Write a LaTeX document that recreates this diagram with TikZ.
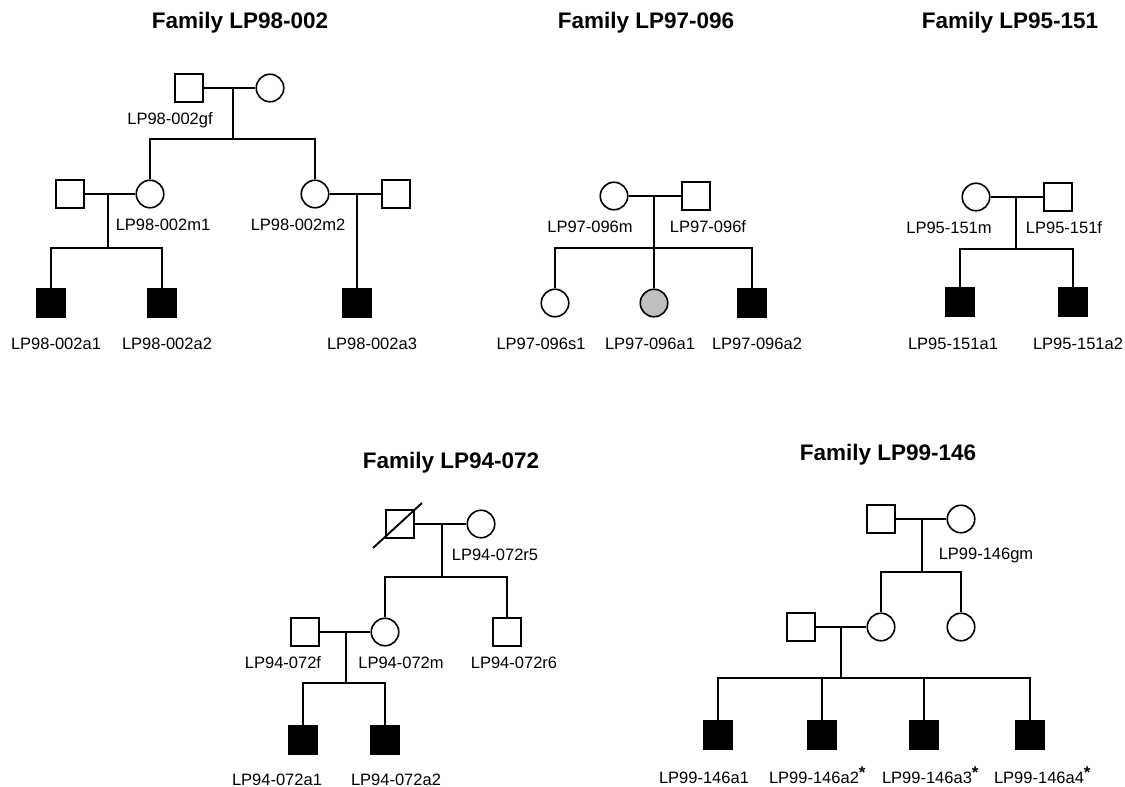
\documentclass[tikz,border=0pt]{standalone}
\usepackage{fontspec}
\setmainfont{Liberation Sans}
\newcommand{\myast}{\rlap{\raisebox{4.5pt}{\fontsize{17}{17}\selectfont\bfseries *}}}
\begin{document}
\begin{tikzpicture}[x=1pt,y=-1pt,
  male/.style={draw, line width=1.6pt, rectangle, minimum size=28.5pt, inner sep=0pt},
  female/.style={draw, line width=1.6pt, circle, minimum size=27.5pt, inner sep=0pt},
  aff/.style={fill=black},
  grayaff/.style={fill=black!25},
  lbl/.style={anchor=base, inner sep=0pt, font=\fontsize{16.5}{20}\selectfont},
  ttl/.style={anchor=base, inner sep=0pt, font=\fontsize{22.5}{27}\selectfont\bfseries},
  ln/.style={line width=2.1pt}]
\fill[white] (0,0) rectangle (1125,787);
\useasboundingbox (0,0) rectangle (1125,787);

% ---------------- Family LP98-002 ----------------
\node[ttl] (t1) at (240,28) {Family LP98-002};
\node[male] (A_gf) at (189,88) {};
\node[female] (A_gm) at (270,88) {};
\coordinate (A_c1) at (233,88);
\coordinate (A_s1) at (233,139);
\node[female] (A_m1) at (150,194) {};
\node[female] (A_m2) at (315,194) {};
\node[male] (A_h1) at (70,194) {};
\node[male] (A_h2) at (396,194) {};
\coordinate (A_c2) at (108,194);
\coordinate (A_s2) at (108,248);
\coordinate (A_c3) at (357,194);
\node[male,aff] (A_a1) at (51,303) {};
\node[male,aff] (A_a2) at (162,303) {};
\node[male,aff] (A_a3) at (357,303) {};
\draw[ln] (A_gf.east) -- (A_gm.west);
\draw[ln] (A_c1) -- (A_s1);
\draw[ln] (A_m1.north) |- (A_s1) -| (A_m2.north);
\draw[ln] (A_h1.east) -- (A_m1.west);
\draw[ln] (A_c2) -- (A_s2);
\draw[ln] (A_a1.north) |- (A_s2) -| (A_a2.north);
\draw[ln] (A_m2.east) -- (A_h2.west);
\draw[ln] (A_c3) -- (A_a3.north);
\node[lbl] (A_lgf) at (170,124) {LP98-002gf};
\node[lbl] (A_lm1) at (163,230) {LP98-002m1};
\node[lbl] (A_lm2) at (298,230) {LP98-002m2};
\node[lbl] (A_la1) at (56,349) {LP98-002a1};
\node[lbl] (A_la2) at (167,349) {LP98-002a2};
\node[lbl] (A_la3) at (372,349) {LP98-002a3};

% ---------------- Family LP97-096 ----------------
\node[ttl] (t2) at (646,28) {Family LP97-096};
\node[female] (B_m) at (614,196) {};
\node[male] (B_f) at (696,196) {};
\coordinate (B_c) at (654,196);
\coordinate (B_s) at (654,248);
\node[female] (B_s1) at (555,303) {};
\node[female,grayaff] (B_a1) at (654,303) {};
\node[male,aff] (B_a2) at (752,303) {};
\draw[ln] (B_m.east) -- (B_f.west);
\draw[ln] (B_c) -- (B_a1.north);
\draw[ln] (B_s1.north) |- (B_s) -| (B_a2.north);
\node[lbl] (B_lm) at (590,232) {LP97-096m};
\node[lbl] (B_lf) at (708,232) {LP97-096f};
\node[lbl] (B_ls1) at (541,349) {LP97-096s1};
\node[lbl] (B_la1) at (650,349) {LP97-096a1};
\node[lbl] (B_la2) at (757,349) {LP97-096a2};

% ---------------- Family LP95-151 ----------------
\node[ttl] (t3) at (1010,28) {Family LP95-151};
\node[female] (C_m) at (976,197) {};
\node[male] (C_f) at (1058,197) {};
\coordinate (C_c) at (1016,197);
\coordinate (C_s) at (1016,249);
\node[male,aff] (C_a1) at (960,302) {};
\node[male,aff] (C_a2) at (1073,302) {};
\draw[ln] (C_m.east) -- (C_f.west);
\draw[ln] (C_c) -- (C_s);
\draw[ln] (C_a1.north) |- (C_s) -| (C_a2.north);
\node[lbl] (C_lm) at (949,233) {LP95-151m};
\node[lbl] (C_lf) at (1064,233) {LP95-151f};
\node[lbl] (C_la1) at (953,349) {LP95-151a1};
\node[lbl] (C_la2) at (1078,349) {LP95-151a2};

% ---------------- Family LP94-072 ----------------
\node[ttl] (t4) at (451,468) {Family LP94-072};
\node[male] (D_d) at (400,524) {};
\node[female] (D_r5) at (481,524) {};
\coordinate (D_c1) at (442,524);
\coordinate (D_s1) at (442,577);
\coordinate (D_x1) at ([shift={(-27,24)}]D_d.center);
\coordinate (D_x2) at ([shift={(22,-21)}]D_d.center);
\draw[line width=1.9pt] (D_x1) -- (D_x2);
\node[female] (D_m) at (385,632) {};
\node[male] (D_r6) at (507,632) {};
\node[male] (D_f) at (305,632) {};
\coordinate (D_c2) at (346,632);
\coordinate (D_s2) at (346,683);
\node[male,aff] (D_a1) at (303,740) {};
\node[male,aff] (D_a2) at (385,740) {};
\draw[ln] (D_d.east) -- (D_r5.west);
\draw[ln] (D_c1) -- (D_s1);
\draw[ln] (D_m.north) |- (D_s1) -| (D_r6.north);
\draw[ln] (D_f.east) -- (D_m.west);
\draw[ln] (D_c2) -- (D_s2);
\draw[ln] (D_a1.north) |- (D_s2) -| (D_a2.north);
\node[lbl] (D_lr5) at (495,560) {LP94-072r5};
\node[lbl] (D_lf) at (283,668) {LP94-072f};
\node[lbl] (D_lm) at (401,668) {LP94-072m};
\node[lbl] (D_lr6) at (514,668) {LP94-072r6};
\node[lbl] (D_la1) at (277,785) {LP94-072a1};
\node[lbl] (D_la2) at (396,785) {LP94-072a2};

% ---------------- Family LP99-146 ----------------
\node[ttl] (t5) at (888,460) {Family LP99-146};
\node[male] (E_gf) at (881,519) {};
\node[female] (E_gm) at (961,519) {};
\coordinate (E_c1) at (922,519);
\coordinate (E_s1) at (922,572);
\node[female] (E_m) at (881,627) {};
\node[female] (E_sis) at (961,627) {};
\node[male] (E_f) at (801,627) {};
\coordinate (E_c2) at (841,627);
\coordinate (E_s2) at (841,678);
\node[male,aff] (E_k1) at (718,735) {};
\node[male,aff] (E_k2) at (822,735) {};
\node[male,aff] (E_k3) at (924,735) {};
\node[male,aff] (E_k4) at (1030,735) {};
\draw[ln] (E_gf.east) -- (E_gm.west);
\draw[ln] (E_c1) -- (E_s1);
\draw[ln] (E_m.north) |- (E_s1) -| (E_sis.north);
\draw[ln] (E_f.east) -- (E_m.west);
\draw[ln] (E_c2) -- (E_s2);
\draw[ln] (E_k1.north) |- (E_s2) -| (E_k4.north);
\draw[ln] (E_k2.north) -- (E_k2.north |- E_s2);
\draw[ln] (E_k3.north) -- (E_k3.north |- E_s2);
\node[lbl] (E_lgm) at (986,559) {LP99-146gm};
\node[lbl] (E_lk1) at (704,783) {LP99-146a1};
\node[lbl] (E_lk2) at (814,783) {LP99-146a2\myast};
\node[lbl] (E_lk3) at (927,783) {LP99-146a3\myast};
\node[lbl] (E_lk4) at (1039,783) {LP99-146a4\myast};
\end{tikzpicture}
\end{document}
